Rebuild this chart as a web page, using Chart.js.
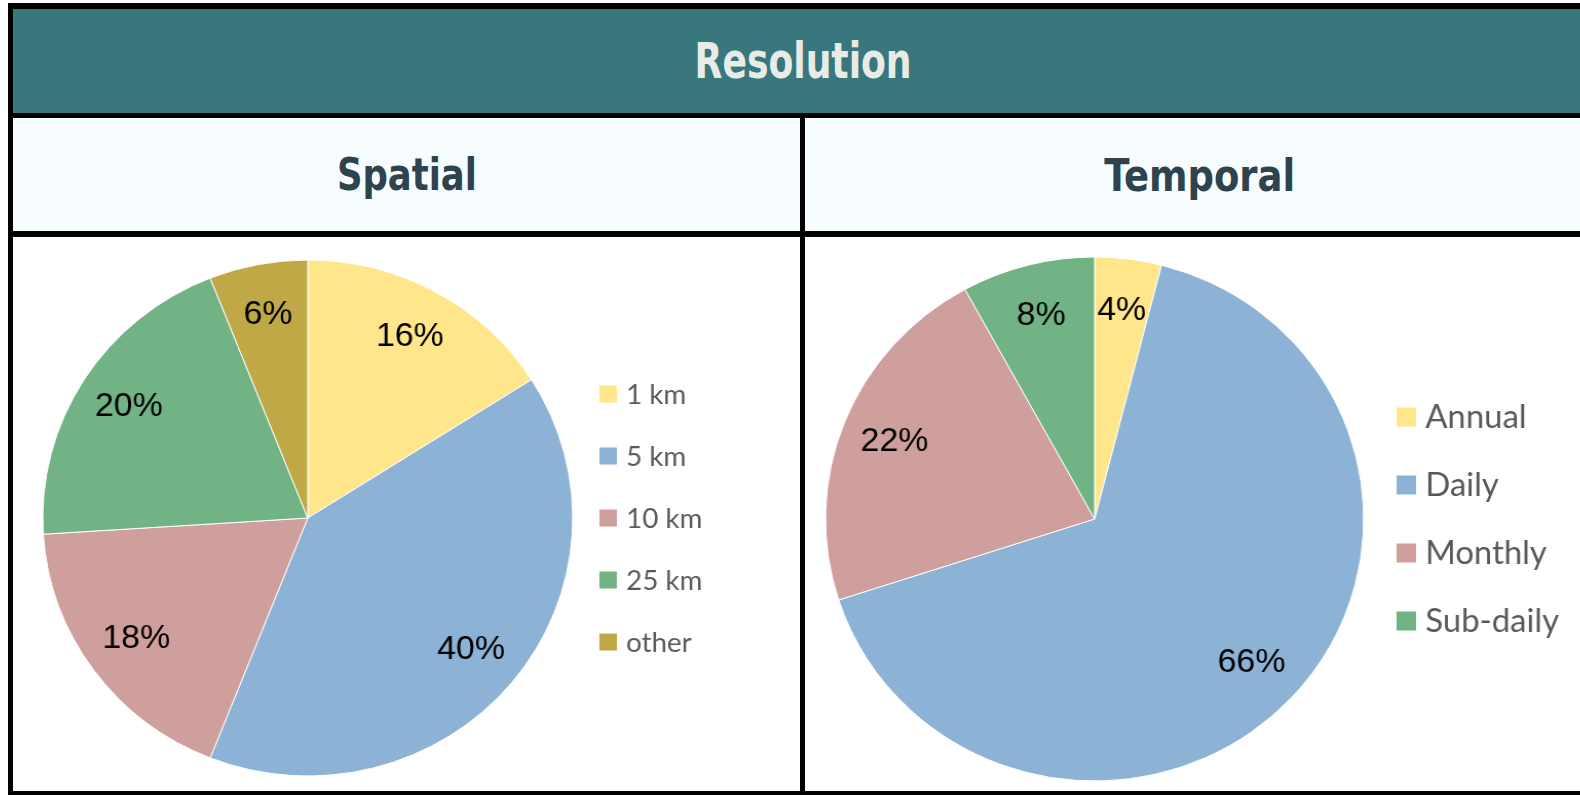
<!DOCTYPE html>
<html>
<head>
<meta charset="utf-8">
<script src="https://cdn.jsdelivr.net/npm/chart.js@4.4.1/dist/chart.umd.min.js"></script>
<style>
  html, body { margin: 0; padding: 0; background: #fff; }
  body { width: 1580px; height: 795px; position: relative; overflow: hidden; }
  .blk { position: absolute; background: #000; }
  .band { position: absolute; display: flex; align-items: center; justify-content: center; }
  .title { font-family: "DejaVu Sans Condensed", "DejaVu Sans", sans-serif; font-weight: bold; white-space: nowrap; }
  .cell { position: absolute; }
  .cell canvas { position: absolute; left: 0; top: 0; transform-origin: 0 0; transform: scaleX(1.027); }
</style>
</head>
<body>
  <!-- banner + column headers -->
  <div class="band" style="left:13px;top:9px;width:1567px;height:104px;background:#39777f;">
    <span class="title" id="mainTitle" style="color:#e9ebe6;font-size:50px;margin-top:0px;margin-left:14px;">Resolution</span>
  </div>
  <div class="band" style="left:13px;top:118px;width:787px;height:113px;background:#f7fdfe;">
    <span class="title" id="spTitle" style="color:#2e434e;font-size:45px;margin-top:-1px;">Spatial</span>
  </div>
  <div class="band" style="left:805px;top:118px;width:775px;height:113px;background:#f7fdfe;">
    <span class="title" id="tmTitle" style="color:#2e434e;font-size:45px;margin-top:1px;margin-left:14px;">Temporal</span>
  </div>

  <div class="cell" style="left:13px;top:237px;width:787px;height:554px;"><canvas id="spatial"></canvas></div>
  <div class="cell" style="left:805px;top:237px;width:775px;height:554px;"><canvas id="temporal"></canvas></div>

  <!-- grid lines -->
  <div class="blk" style="left:8px;top:3px;width:1572px;height:6px;"></div>
  <div class="blk" style="left:8px;top:113px;width:1572px;height:5px;"></div>
  <div class="blk" style="left:8px;top:231px;width:1572px;height:6px;"></div>
  <div class="blk" style="left:8px;top:791px;width:1572px;height:4px;"></div>
  <div class="blk" style="left:8px;top:3px;width:5px;height:792px;"></div>
  <div class="blk" style="left:800px;top:113px;width:5px;height:682px;"></div>

<script>
const spatialLabels = ['1 km', '5 km', '10 km', '25 km', 'other'];
const spatialValues = [16, 40, 18, 20, 6];
const spatialColors = ['#ffe68a', '#8cb2d5', '#cf9f9e', '#72b386', '#c0a846'];

const temporalLabels = ['Annual', 'Daily', 'Monthly', 'Sub-daily'];
const temporalValues = [4, 66, 22, 8];
const temporalColors = ['#ffe68a', '#8cb2d5', '#cf9f9e', '#72b386'];

const STRETCH = 1.027;

// squeeze the header words down to their printed widths
function fitWidth(id, target) {
  const el = document.getElementById(id);
  const w = el.getBoundingClientRect().width;
  el.style.display = 'inline-block';
  el.style.transform = 'scaleX(' + (target / w) + ')';
}
fitWidth('mainTitle', 217);
fitWidth('spTitle', 140);
fitWidth('tmTitle', 191);

// percentage text inside each slice
const sliceLabels = {
  id: 'sliceLabels',
  afterDatasetsDraw(chart, args, opts) {
    const ctx = chart.ctx;
    const meta = chart.getDatasetMeta(0);
    const values = chart.data.datasets[0].data;
    ctx.save();
    ctx.font = opts.font;
    ctx.fillStyle = '#000';
    ctx.textAlign = 'center';
    ctx.textBaseline = 'middle';
    meta.data.forEach((arc, i) => {
      const mid = (arc.startAngle + arc.endAngle) / 2;
      const d = arc.outerRadius * opts.pos;
      ctx.fillText(values[i] + '%', arc.x + Math.cos(mid) * d, arc.y + Math.sin(mid) * d);
    });
    ctx.restore();
  }
};

// square swatch legend to the right of the pie
const sideLegend = {
  id: 'sideLegend',
  afterDraw(chart, args, opts) {
    const ctx = chart.ctx;
    const ds = chart.data.datasets[0];
    ctx.save();
    ctx.font = opts.font;
    ctx.textBaseline = 'middle';
    chart.data.labels.forEach((lab, i) => {
      const y = opts.y + i * opts.step;
      ctx.fillStyle = ds.backgroundColor[i];
      ctx.fillRect(opts.x, y - opts.box / 2, opts.box, opts.box);
      ctx.fillStyle = '#595959';
      ctx.fillText(lab, opts.textX, y + 1);
    });
    ctx.restore();
  }
};

function makePie(id, w, h, labels, values, colors, geo) {
  const canvas = document.getElementById(id);
  canvas.width = Math.round(w / STRETCH);
  canvas.height = h;
  return new Chart(canvas, {
    type: 'pie',
    data: {
      labels: labels,
      datasets: [{
        data: values,
        backgroundColor: colors,
        borderColor: '#ffffff',
        borderWidth: 1,
        radius: geo.r
      }]
    },
    options: {
      responsive: false,
      animation: false,
      events: [],
      layout: { padding: geo.pad },
      plugins: {
        legend: { display: false },
        tooltip: { enabled: false },
        sliceLabels: { font: '33px "Liberation Sans", Arial, sans-serif', pos: 0.8 },
        sideLegend: geo.legend
      }
    },
    plugins: [sliceLabels, sideLegend]
  });
}

makePie('spatial', 787, 554, spatialLabels, spatialValues, spatialColors, {
  r: 258,
  pad: { left: 29, right: 221, top: 23, bottom: 15 },
  legend: { x: 571, textX: 597, y: 157, step: 62, box: 17, font: '27px Lato, sans-serif' }
});

makePie('temporal', 775, 554, temporalLabels, temporalValues, temporalColors, {
  r: 262,
  pad: { left: 20, right: 211, top: 20, bottom: 10 },
  legend: { x: 576, textX: 604, y: 180, step: 68, box: 19, font: '32px Lato, sans-serif' }
});
</script>
</body>
</html>
